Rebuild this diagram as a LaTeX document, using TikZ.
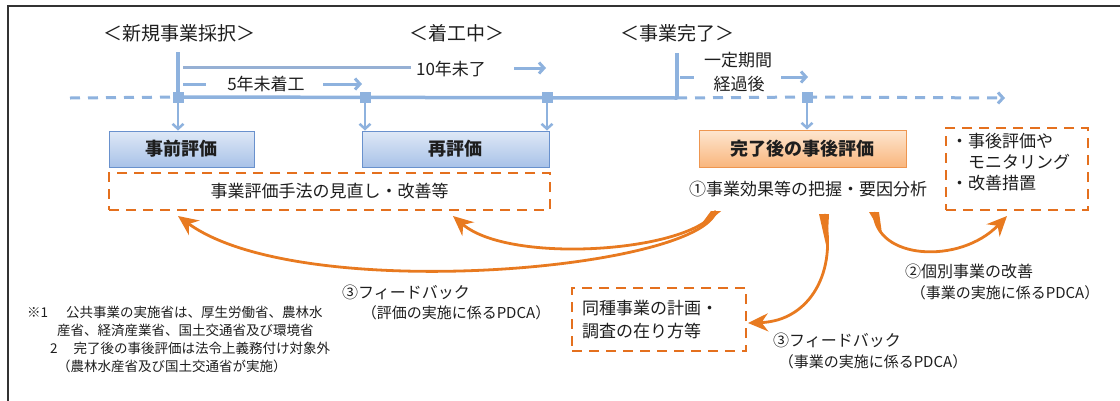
\documentclass[tikz,border=0pt]{standalone}
\usepackage{fontspec}
\setmainfont{Noto Sans CJK JP}
\usetikzlibrary{arrows.meta}
\definecolor{tl}{RGB}{142,178,222}
\definecolor{tlg}{RGB}{150,176,212}
\definecolor{boxtop}{RGB}{222,232,246}
\definecolor{boxbot}{RGB}{168,194,232}
\definecolor{boxln}{RGB}{105,145,205}
\definecolor{otop}{RGB}{253,230,208}
\definecolor{obot}{RGB}{249,182,125}
\definecolor{oln}{RGB}{238,150,80}
\definecolor{odash}{RGB}{228,112,30}
\definecolor{fbc}{RGB}{232,122,32}
\definecolor{txt}{RGB}{30,30,30}
\newcommand{\fsz}[1]{\fontsize{#1pt}{#1pt}\selectfont}
\tikzset{
  tline/.style={tl, line width=3.5pt},
  tdash/.style={tl, line width=3pt, dash pattern=on 10pt off 8pt},
  chev/.style={-{Straight Barb[length=5pt,width=11pt]}},
  bluebox/.style={draw=boxln, line width=1pt, top color=boxtop, bottom color=boxbot, inner sep=0pt, font=\fsz{18}\bfseries, text=txt},
  orangebox/.style={draw=oln, line width=1pt, top color=otop, bottom color=obot, inner sep=0pt, font=\fsz{18}\bfseries, text=txt},
  dashbox/.style={draw=odash, line width=2.5pt, dash pattern=on 10pt off 7pt, fill=white, inner sep=0pt, text=txt},
  sq/.style={fill=tl, minimum size=11pt, inner sep=0pt},
  lbl/.style={text=txt, inner sep=0pt},
  fbarrow/.style={fbc, line width=2.8pt, -{Stealth[length=20pt,width=18pt]}},
}
\begin{document}
\begin{tikzpicture}[x=1pt,y=-1pt]
\useasboundingbox (0,0) rectangle (1120,400);
% frame
\draw[black!80, line width=1.6pt] (8,402) -- (8,6) -- (1122,6);

% headings
\node[lbl, font=\fsz{19}] (hNew) at (179,33) {＜新規事業採択＞};
\node[lbl, font=\fsz{19}] (hMid) at (457,33) {＜着工中＞};
\node[lbl, font=\fsz{19}] (hEnd) at (677,33) {＜事業完了＞};

% timeline squares
\node[sq] (s1) at (178,97) {};
\node[sq] (s2) at (365,97) {};
\node[sq] (s3) at (547,97) {};
\node[sq] (s4) at (807,97) {};

\coordinate (t0) at (70,98);
\coordinate (tc) at (677,98);
\coordinate (tE) at (1005,98);
\coordinate (v1) at (178,52);
\coordinate (v3) at (677,53);

\draw[tdash] (t0) -- (s1.center);
\draw[tline] (s1.center) -- (tc);
\draw[tdash] (tc) -- (s4.center);
\draw[tdash, chev] (s4.center) -- (tE);
\draw[tline] (v1) -- (s1.center);
\draw[tline] (v3) -- (tc);

% 10年未了
\coordinate (a10s) at (183,67);
\coordinate (a10e) at (411,67);
\node[lbl, font=\fsz{17}] (t10) at (451,69) {10年未了};
\coordinate (a10b) at (514,68);
\coordinate (a10c) at (546,68);
\draw[tlg, line width=3pt] (a10s) -- (a10e);
\draw[tl, line width=3pt, chev] (a10b) -- (a10c);

% 5年未着工
\coordinate (a5s) at (183,84);
\coordinate (a5e) at (206,84);
\node[lbl, font=\fsz{17}] (t5) at (266,84) {5年未着工};
\coordinate (a5b) at (323,84);
\coordinate (a5c) at (362,84);
\draw[tl, line width=3pt] (a5s) -- (a5e);
\draw[tl, line width=3pt, chev] (a5b) -- (a5c);

% 一定期間経過後
\node[lbl, font=\fsz{17}] (tp1) at (738,60) {一定期間};
\node[lbl, font=\fsz{17}] (tp2) at (739,84) {経過後};
\coordinate (ap1) at (680,77);
\coordinate (ap2) at (694,77);
\coordinate (ap3) at (781,77);
\coordinate (ap4) at (808,77);
\draw[tl, line width=3pt] (ap1) -- (ap2);
\draw[tl, line width=3pt, chev] (ap3) -- (ap4);

% boxes
\node[bluebox, minimum width=145pt, minimum height=36pt] (pre) at (181.5,149) {事前評価};
\node[bluebox, minimum width=187pt, minimum height=36pt] (re) at (455.5,149) {再評価};
\node[orangebox, minimum width=207pt, minimum height=37pt] (post) at (802.5,148.5) {完了後の事後評価};

% down arrows
\draw[tl, line width=2.5pt, chev] (s1.south) -- (s1.south |- pre.north);
\draw[tl, line width=2.5pt, chev] (s2.south) -- (s2.south |- re.north);
\draw[tl, line width=2.5pt, chev] (s3.south) -- (s3.south |- re.north);
\draw[tl, line width=2.5pt, chev] (s4.south) -- (s4.south |- post.north);

% dashed boxes
\node[dashbox, minimum width=441pt, minimum height=37pt, font=\fsz{17}] (rev) at (329.5,191.5) {事業評価手法の見直し・改善等};
\node[dashbox, minimum width=142pt, minimum height=82pt] (mon) at (1017,169) {};
\node[lbl, font=\fsz{17}, align=left, anchor=north west] (montx) at (951,133) {・事後評価や\\[4pt]\hphantom{・}モニタリング\\[4pt]・改善措置};
\node[dashbox, minimum width=174pt, minimum height=63pt] (same) at (659,319.5) {};
\node[lbl, font=\fsz{17}, align=left, anchor=north west] (sametx) at (582,300) {同種事業の計画・\\[6pt]調査の在り方等};

% ① text
\node[lbl, font=\fsz{17}] (eff) at (808,189) {①事業効果等の把握・要因分析};

% feedback labels
\node[lbl, font=\fsz{16}] (fb1a) at (406,292) {③フィードバック};
\node[lbl, font=\fsz{15}] (fb1b) at (456,313) {（評価の実施に係るPDCA）};
\node[lbl, font=\fsz{16}] (fb2a) at (969,271) {②個別事業の改善};
\node[lbl, font=\fsz{15}] (fb2b) at (1005,293) {（事業の実施に係るPDCA）};
\node[lbl, font=\fsz{16}] (fb3a) at (837,340) {③フィードバック};
\node[lbl, font=\fsz{15}] (fb3b) at (873,362) {（事業の実施に係るPDCA）};

% footnotes
\node[lbl, font=\fsz{13.5}, anchor=west] (fn1) at (27,312) {※1\kern 18pt 公共事業の実施省は、厚生労働省、農林水};
\node[lbl, font=\fsz{13.5}, anchor=west] (fn2) at (57,330) {産省、経済産業省、国土交通省及び環境省};
\node[lbl, font=\fsz{13.5}, anchor=west] (fn3) at (50,348) {2\kern 16pt 完了後の事後評価は法令上義務付け対象外};
\node[lbl, font=\fsz{13.5}, anchor=west] (fn4) at (57,366) {（農林水産省及び国土交通省が実施）};

% feedback arrows
\coordinate (o1) at (716,211);
\coordinate (o3) at (824,214);
\coordinate (o4) at (874,212);
\coordinate (e1) at (178,216);
\coordinate (e2) at (453,216);
\coordinate (e3) at (748,323);
\coordinate (e4) at (1007,216);

\path (o1) .. controls (700,270) and (300,305) .. (e1) coordinate[pos=0.06] (m1);
\path (o1) .. controls (692,252) and (510,265) .. (e2) coordinate[pos=0.12] (m2);
\path (o3) .. controls (838,271) and (810,321) .. (e3) coordinate[pos=0.22] (m3);
\path (o4) .. controls (875,260) and (960,265) .. (e4) coordinate[pos=0.18] (m4);

\draw[fbarrow] (o1) .. controls (700,270) and (300,305) .. (e1);
\draw[fbarrow] (o1) .. controls (692,252) and (510,265) .. (e2);
\draw[fbarrow] (o3) .. controls (838,271) and (810,321) .. (e3);
\draw[fbarrow] (o4) .. controls (875,260) and (960,265) .. (e4);

\fill[fbc] ([xshift=-5pt]o1) -- (m1) -- ([xshift=5pt]o1) -- cycle;
\fill[fbc] ([xshift=-5pt]o1) -- (m2) -- ([xshift=5pt]o1) -- cycle;
\fill[fbc] ([xshift=-5pt]o3) -- (m3) -- ([xshift=5pt]o3) -- cycle;
\fill[fbc] ([xshift=-5pt]o4) -- (m4) -- ([xshift=5pt]o4) -- cycle;
\end{tikzpicture}
\end{document}
